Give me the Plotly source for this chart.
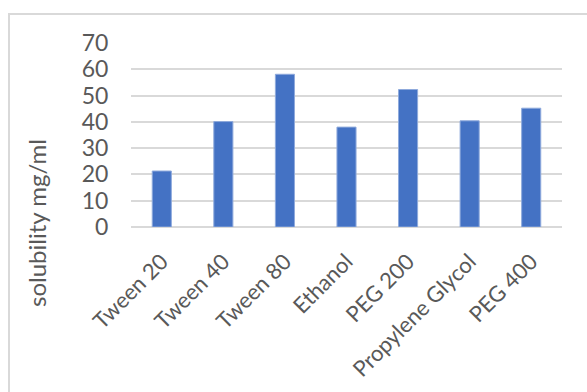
import plotly.graph_objects as go

categories = ["Tween 20", "Tween 40", "Tween 80", "Ethanol", "PEG 200", "Propylene Glycol", "PEG 400"]
solubility = [21.3, 40.1, 58.1, 38.0, 52.3, 40.4, 45.2]
y_ticks = [0, 10, 20, 30, 40, 50, 60, 70]

W, H = 587, 392
L, R, T, B = 131, 25, 43, 165
pw, ph = W - L - R, H - T - B

fig = go.Figure()
fig.add_trace(go.Bar(
    x=categories, y=solubility,
    marker=dict(color="#4472C4", line=dict(color="#8FAADC", width=1)),
    width=0.31,
))

font = "Lato, 'Open Sans', sans-serif"
fig.update_layout(
    width=W, height=H,
    margin=dict(l=L, r=R, t=T, b=B, pad=0),
    paper_bgcolor="white", plot_bgcolor="white",
    showlegend=False,
    font=dict(family=font, color="#595959"),
    xaxis=dict(
        tickangle=-45, tickfont=dict(size=22, color="#595959"),
        showgrid=False, showline=False, automargin=False,
        ticks="outside", ticklen=12, tickcolor="rgba(0,0,0,0)",
    ),
    yaxis=dict(
        range=[0, 70], tickvals=y_ticks, ticktext=[str(v) for v in y_ticks],
        tickfont=dict(size=23, color="#595959"),
        showgrid=True, gridcolor="#D9D9D9", gridwidth=2,
        zeroline=True, zerolinecolor="#D9D9D9", zerolinewidth=2,
        ticks="outside", ticklen=17, tickcolor="rgba(0,0,0,0)", automargin=False,
    ),
    annotations=[dict(
        text="solubility mg/ml", textangle=-90, showarrow=False,
        xref="paper", yref="paper",
        x=(36 - L) / pw, y=(T + ph - 223) / ph,
        xanchor="center", yanchor="middle",
        font=dict(size=24, color="#595959", family=font),
    )],
    shapes=[dict(
        type="rect", xref="paper", yref="paper",
        x0=(9 - L) / pw, x1=(W + 20 - L) / pw,
        y0=-(H + 20 - T - ph) / ph, y1=(T + ph - 14) / ph,
        line=dict(color="#D9D9D9", width=2), fillcolor="rgba(0,0,0,0)", layer="below",
    )],
)

fig.write_html("out.html")
